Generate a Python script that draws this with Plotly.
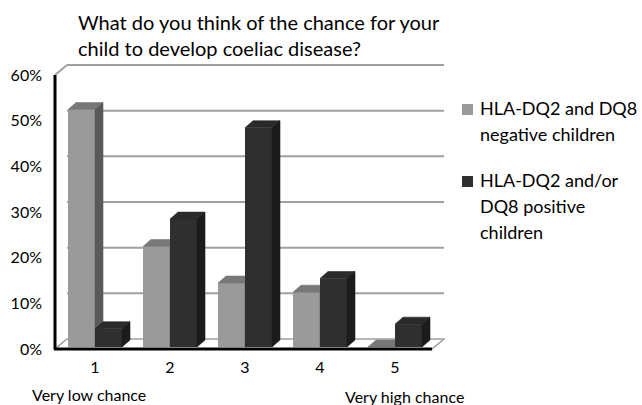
import plotly.graph_objects as go

# ---- data -------------------------------------------------------------
categories = [1, 2, 3, 4, 5]
tick_labels = ["1", "2", "3", "4", "5"]
negative_pct = [52, 22, 14, 12, 0]      # HLA-DQ2 and DQ8 negative children
positive_pct = [4, 28, 48, 15, 5]       # HLA-DQ2 and/or DQ8 positive children
y_ticks = [0, 10, 20, 30, 40, 50, 60]
legend_lines = [["HLA-DQ2 and DQ8", "negative children"],
                ["HLA-DQ2 and/or", "DQ8 positive", "children"]]
title_text = "What do you think of the chance for your<br>child to develop coeliac disease?"

# ---- geometry (pixels) ------------------------------------------------
W, H = 642, 405
ML, MR, MT, MB = 45, 197, 55, 51
PX_CAT = 75.0          # pixels per category step
PX_PCT = 4.567         # pixels per percentage point
CAT1_PX = 95.0         # pixel x of first category centre
ZERO_PX = 349.0        # pixel y of 0 % on the front plane
FONT = "Lato"

def dx(p):             # pixel x -> data x
    return 1 + (p - CAT1_PX) / PX_CAT

def dy(p):             # pixel y -> data y
    return (ZERO_PX - p) / PX_PCT

def paper_x(p):
    return (p - ML) / (W - ML - MR)

def paper_y(p):
    return (H - MB - p) / (H - MT - MB)

XL, XR = dx(55), dx(432)           # front floor edge
BX, BY = 12 / PX_CAT, 10 / PX_PCT  # wall depth
BW = 27 / PX_CAT                   # bar width
LIFT = 2 / PX_PCT                  # bar plane sits behind the front edge
DDX, DDY = 8 / PX_CAT, 7 / PX_PCT  # bar depth

X_RANGE = [dx(ML), dx(W - MR)]
Y_RANGE = [dy(H - MB), dy(MT)]

colors = {
    "neg": {"front": "#9a9a9a", "top": "#787878", "side": "#5a5a5a"},
    "pos": {"front": "#2f2f2f", "top": "#2a2a2a", "side": "#1b1b1b"},
}


def box_faces(values, offset):
    tx, ty, sx, sy = [], [], [], []
    for k, v in zip(categories, values):
        x0 = k + offset
        x1 = x0 + BW
        b, t = LIFT, LIFT + v
        tx += [x0, x1, x1 + DDX, x0 + DDX, x0, None]
        ty += [t, t, t + DDY, t + DDY, t, None]
        sx += [x1, x1 + DDX, x1 + DDX, x1, x1, None]
        sy += [b, b + DDY, t + DDY, t, b, None]
    return (tx, ty), (sx, sy)


fig = go.Figure()

# the positive series lives on an overlaid axis pair so it paints over
# the side faces of the negative series
for key, values, offset, xa, ya in [
    ("neg", negative_pct, -BW, "x", "y"),
    ("pos", positive_pct, 0.0, "x2", "y2"),
]:
    c = colors[key]
    fig.add_trace(go.Bar(
        x=categories, y=values, base=[LIFT] * len(values),
        width=BW, offset=offset,
        marker=dict(color=c["front"], line=dict(width=0)),
        showlegend=False, hoverinfo="skip", xaxis=xa, yaxis=ya,
    ))
    (tx, ty), (sx, sy) = box_faces(values, offset)
    for (fx, fy), col in [((tx, ty), c["top"]), ((sx, sy), c["side"])]:
        fig.add_trace(go.Scatter(
            x=fx, y=fy, mode="lines", fill="toself", fillcolor=col,
            line=dict(width=0.6, color=col),
            showlegend=False, hoverinfo="skip", xaxis=xa, yaxis=ya,
        ))

# ---- walls, floor and gridlines ----------------------------------------
grid_col = "#a0a0a0"
shapes = []
floor = (f"M{XL},0 L{XR},0 L{XR + BX},{BY} L{XL + BX},{BY} Z")
shapes.append(dict(type="path", path=floor, xref="x", yref="y",
                   fillcolor="white", line=dict(color=grid_col, width=1.6),
                   layer="below"))
for v in y_ticks[1:]:
    shapes.append(dict(type="line", xref="x", yref="y",
                       x0=XL + BX, x1=XR + BX, y0=v + BY, y1=v + BY,
                       line=dict(color=grid_col, width=2), layer="below"))
top = y_ticks[-1]
shapes.append(dict(type="line", xref="x", yref="y", x0=XL, y0=top,
                   x1=XL + BX, y1=top + BY,
                   line=dict(color=grid_col, width=2), layer="below"))
# front value axis and front floor edge
shapes.append(dict(type="line", xref="x", yref="y", x0=XL, x1=XL,
                   y0=0, y1=top, line=dict(color="black", width=3),
                   layer="above"))
shapes.append(dict(type="line", xref="x", yref="y", x0=XL - 1 / PX_CAT,
                   x1=XR, y0=0, y1=0, line=dict(color="black", width=3),
                   layer="above"))

# ---- legend keys --------------------------------------------------------
for (y_top, key) in [(104, "neg"), (176, "pos")]:
    shapes.append(dict(type="rect", xref="paper", yref="paper",
                       x0=paper_x(462), x1=paper_x(473),
                       y0=paper_y(y_top + 11), y1=paper_y(y_top),
                       fillcolor=colors[key]["front"], line=dict(width=0)))

annotations = []
for first_mid, lines in [(108, legend_lines[0]), (180, legend_lines[1])]:
    for i, line in enumerate(lines):
        annotations.append(dict(text=line, xref="paper", yref="paper",
                                x=paper_x(478), y=paper_y(first_mid + 26 * i),
                                xanchor="left", yanchor="middle",
                                showarrow=False,
                                font=dict(family=FONT, size=18,
                                          color="black")))

annotations.append(dict(text=title_text, xref="paper", yref="paper",
                        x=paper_x(76), y=paper_y(8), xanchor="left",
                        yanchor="top", align="left", showarrow=False,
                        font=dict(family=FONT, size=20, color="black")))

annotations.append(dict(text="Very low chance", xref="paper", yref="paper",
                        x=paper_x(30), y=paper_y(394), xanchor="left",
                        yanchor="middle", showarrow=False,
                        font=dict(family=FONT, size=16, color="black")))
annotations.append(dict(text="Very high chance", xref="paper", yref="paper",
                        x=paper_x(343), y=paper_y(397), xanchor="left",
                        yanchor="middle", showarrow=False,
                        font=dict(family=FONT, size=16, color="black")))

fig.update_layout(
    width=W, height=H,
    margin=dict(l=ML, r=MR, t=MT, b=MB, pad=0),
    paper_bgcolor="white", plot_bgcolor="white",
    barmode="overlay",
    xaxis=dict(range=X_RANGE, tickvals=categories, ticktext=tick_labels,
               showgrid=False, zeroline=False, showline=False, ticks="",
               tickfont=dict(family=FONT, size=16, color="black"),
               ticklabelstandoff=2),
    yaxis=dict(range=Y_RANGE, tickvals=y_ticks,
               ticktext=[f"{v}%" for v in y_ticks],
               showgrid=False, zeroline=False, showline=False, ticks="",
               tickfont=dict(family=FONT, size=16, color="black"),
               ticklabelstandoff=2),
    xaxis2=dict(range=X_RANGE, overlaying="x", visible=False),
    yaxis2=dict(range=Y_RANGE, overlaying="y", visible=False),
    shapes=shapes,
    annotations=annotations,
    showlegend=False,
)

fig.write_html("out.html")
